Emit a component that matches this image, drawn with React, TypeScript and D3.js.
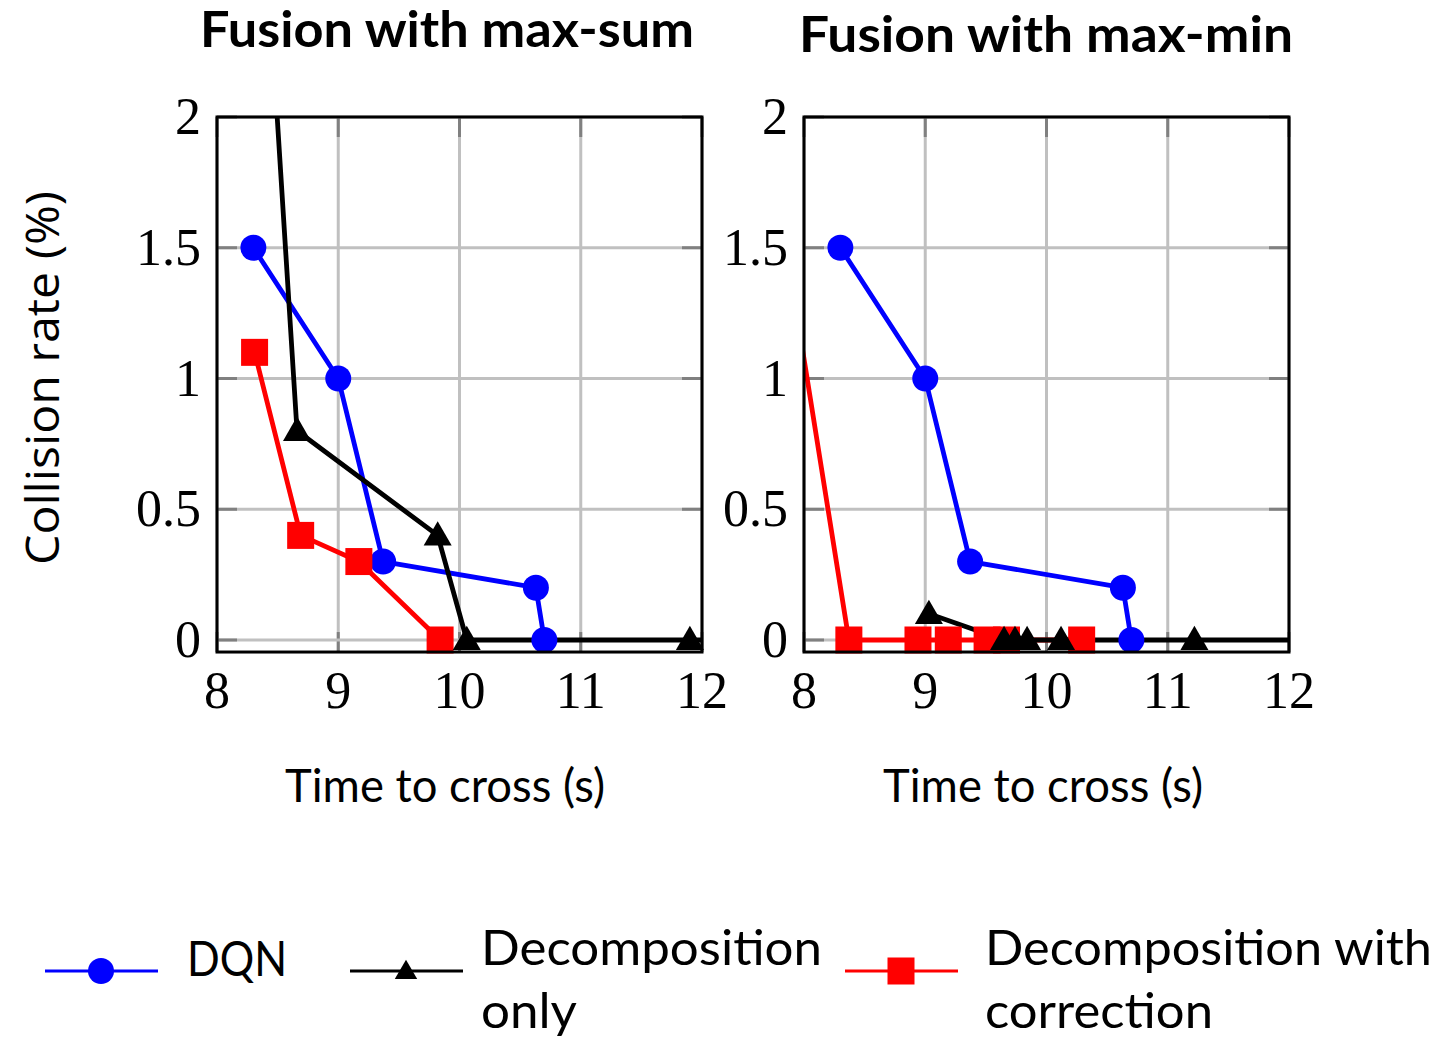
import * as d3 from "d3";

// data (x = time to cross in s, y = collision rate in %)
const dqnX = [8.3, 9.0, 9.37, 10.63, 10.7];
const dqnY = [1.5, 1.0, 0.3, 0.2, 0];

const sumOnlyX = [8.36, 8.66, 9.82, 10.06, 11.9, 12.4];
const sumOnlyY = [3.0, 0.8, 0.4, 0, 0, 0];
const sumCorrX = [8.31, 8.69, 9.17, 9.84];
const sumCorrY = [1.1, 0.4, 0.3, 0];

const minOnlyX = [9.03, 9.65, 9.74, 9.84, 10.12, 11.22, 12.4];
const minOnlyY = [0.1, 0, 0, 0, 0, 0, 0];
const minCorrX = [7.94, 8.37, 8.94, 9.19, 9.51, 9.67, 10.29];
const minCorrY = [1.25, 0, 0, 0, 0, 0, 0];

const xTicks = [8, 9, 10, 11, 12];
const yTicks = [0, 0.5, 1, 1.5, 2];
const yTickLabels = ["0", "0.5", "1", "1.5", "2"];

const seriesNames = ["DQN", "Decomposition only", "Decomposition with correction"];
const colors = ["#0000ff", "#000000", "#ff0000"];

const SERIF = "'Liberation Serif', 'DejaVu Serif', serif";
const SANS = "Lato, 'Noto Sans', sans-serif";

type Pt = [number, number];
const zip = (xs: number[], ys: number[]): Pt[] => xs.map((x, i) => [x, ys[i]]);

function Marker({ kind, x, y, s = 1 }: { kind: number; x: number; y: number; s?: number }) {
  if (kind === 0) return <circle cx={x} cy={y} r={13 * s} fill={colors[0]} />;
  if (kind === 1) {
    const sym = d3.symbol().type(d3.symbolTriangle).size(340 * s * s)();
    return <path d={sym ?? ""} transform={`translate(${x},${y + 2 * s})`} fill={colors[1]} />;
  }
  const h = 13.5 * s;
  return <rect x={x - h} y={y - h} width={2 * h} height={2 * h} fill={colors[2]} />;
}

function Panel({
  id,
  left,
  title,
  titleX,
  titleY,
  labelX,
  series,
  yLabel,
}: {
  id: string;
  left: number;
  title: string;
  titleX: number;
  titleY: number;
  labelX: number;
  series: Pt[][];
  yLabel: boolean;
}) {
  const x = d3.scaleLinear().domain([8, 12]).range([left, left + 485]);
  const y = d3.scaleLinear().domain([0, 2]).range([640, 117]);
  const x0 = x(8), x1 = x(12), yTop = y(2), yBot = y(-0.046);
  const line = d3.line<Pt>().x((d) => x(d[0])).y((d) => y(d[1]));
  const inside = (d: Pt) => d[0] >= 8 && d[0] <= 12 && d[1] <= 2;
  const tick = 20;
  // draw order: DQN, correction, decomposition only
  const order = [0, 2, 1];
  return (
    <g>
      <defs>
        <clipPath id={id}>
          <rect x={x0} y={yTop} width={x1 - x0} height={yBot - yTop} />
        </clipPath>
      </defs>
      <text
        x={titleX}
        y={titleY}
        textAnchor="middle"
        fontFamily={SANS}
        fontWeight={700}
        fontSize={49}
        textLength={494}
        lengthAdjust="spacingAndGlyphs"
      >
        {title}
      </text>
      {xTicks.map((t) => (
        <g key={"gx" + t}>
          <line x1={x(t)} x2={x(t)} y1={yTop} y2={yBot} stroke="#c0c0c0" strokeWidth={3} />
          <line x1={x(t)} x2={x(t)} y1={yTop} y2={yTop + tick} stroke="#808080" strokeWidth={3} />
          <line x1={x(t)} x2={x(t)} y1={yBot} y2={yBot - tick} stroke="#808080" strokeWidth={3} />
          <text x={x(t)} y={708} textAnchor="middle" fontFamily={SERIF} fontSize={52}>
            {t}
          </text>
        </g>
      ))}
      {yTicks.map((t, i) => (
        <g key={"gy" + t}>
          <line x1={x0} x2={x1} y1={y(t)} y2={y(t)} stroke="#c0c0c0" strokeWidth={3} />
          <line x1={x0} x2={x0 + tick} y1={y(t)} y2={y(t)} stroke="#808080" strokeWidth={3} />
          <line x1={x1} x2={x1 - tick} y1={y(t)} y2={y(t)} stroke="#808080" strokeWidth={3} />
          <text x={x0 - 16} y={y(t) + 17} textAnchor="end" fontFamily={SERIF} fontSize={52}>
            {yTickLabels[i]}
          </text>
        </g>
      ))}
      <g clipPath={`url(#${id})`}>
        {order.map((k) => (
          <path key={"l" + k} d={line(series[k]) ?? ""} fill="none" stroke={colors[k]} strokeWidth={4.8} strokeLinejoin="round" />
        ))}
      </g>
      {order.map((k) => (
        <g key={"m" + k}>
          {series[k].filter(inside).map((d, i) => (
            <Marker key={i} kind={k} x={x(d[0])} y={y(d[1])} />
          ))}
        </g>
      ))}
      <rect x={x0} y={yTop} width={x1 - x0} height={yBot - yTop} fill="none" stroke="#000" strokeWidth={3} />
      <text
        x={labelX}
        y={802}
        textAnchor="middle"
        fontFamily={SANS}
        fontSize={46}
        textLength={320}
        lengthAdjust="spacingAndGlyphs"
      >
        Time to cross (s)
      </text>
      {yLabel && (
        <text
          transform={`translate(59,${378}) rotate(-90)`}
          textAnchor="middle"
          fontFamily="'Open Sans', 'Noto Sans', sans-serif"
          fontSize={46}
          textLength={374}
          lengthAdjust="spacingAndGlyphs"
        >
          Collision rate (%)
        </text>
      )}
    </g>
  );
}

export default function App() {
  const legend = [
    { x: 45, tx: 187, lines: ["DQN"], widths: [100], ty: 976 },
    { x: 350, tx: 481, lines: ["Decomposition", "only"], widths: [341, 96], ty: 965 },
    { x: 845, tx: 985, lines: ["Decomposition with", "correction"], widths: [447, 228], ty: 965 },
  ];
  return (
    <svg width={1440} height={1038} style={{ position: "absolute", left: 0, top: 0, background: "#fff" }}>
      <Panel
        id="clipSum"
        left={217}
        title="Fusion with max-sum"
        titleX={447}
        titleY={47}
        labelX={445}
        series={[zip(dqnX, dqnY), zip(sumOnlyX, sumOnlyY), zip(sumCorrX, sumCorrY)]}
        yLabel={true}
      />
      <Panel
        id="clipMin"
        left={804}
        title="Fusion with max-min"
        titleX={1046}
        titleY={52}
        labelX={1043}
        series={[zip(dqnX, dqnY), zip(minOnlyX, minOnlyY), zip(minCorrX, minCorrY)]}
        yLabel={false}
      />
      {legend.map((l, k) => (
        <g key={seriesNames[k]}>
          <line x1={l.x} x2={l.x + 113} y1={971} y2={971} stroke={colors[k]} strokeWidth={3} />
          <Marker kind={k} x={l.x + 56} y={971} s={k === 1 ? 0.8 : 1} />
          {l.lines.map((s, j) => (
            <text
              key={j}
              x={l.tx}
              y={l.ty + j * 63}
              fontFamily={SANS}
              fontSize={48}
              textLength={l.widths[j]}
              lengthAdjust="spacingAndGlyphs"
            >
              {s}
            </text>
          ))}
        </g>
      ))}
    </svg>
  );
}
